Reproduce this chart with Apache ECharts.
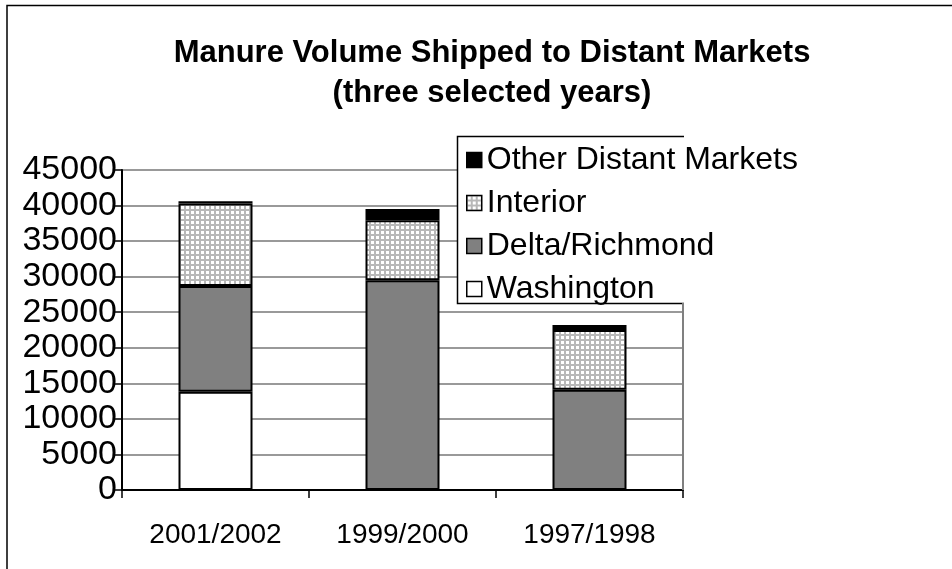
<!DOCTYPE html>
<html>
<head>
<meta charset="utf-8">
<script src="https://cdn.jsdelivr.net/npm/echarts@6/dist/echarts.min.js"></script>
<style>html,body{margin:0;padding:0;background:#fff;}#c{width:952px;height:569px;}</style>
</head>
<body>
<div id="c"></div>
<script>
const categories = ['2001/2002', '1999/2000', '1997/1998'];
const washington = [13800, 0, 0];
const delta = [14900, 29500, 14100];
const interior = [11600, 8450, 8400];
const other = [300, 1550, 700];
const yTicks = [0, 5000, 10000, 15000, 20000, 25000, 30000, 35000, 40000, 45000];

function dotPattern() {
  const c = document.createElement('canvas');
  c.width = 5; c.height = 5;
  const g = c.getContext('2d');
  g.fillStyle = '#b8b8b8';
  g.fillRect(0, 0, 5, 5);
  g.fillStyle = '#ffffff';
  g.fillRect(1, 1, 3, 3);
  return c;
}
const pat = { image: dotPattern(), repeat: 'repeat' };

const FONT = '"Liberation Sans", Arial, sans-serif';
const chart = echarts.init(document.getElementById('c'), null, { renderer: 'canvas' });
const border = { borderColor: '#000', borderWidth: 2 };
chart.setOption({
  animation: false,
  backgroundColor: '#fff',
  title: {
    text: 'Manure Volume Shipped to Distant Markets\n(three selected years)',
    left: 487, top: 28, textAlign: 'center',
    textStyle: { fontFamily: FONT, fontSize: 31, fontWeight: 'bold', color: '#000', lineHeight: 40 }
  },
  legend: {
    orient: 'vertical', left: 466, top: 143, padding: 0, z: 10,
    icon: 'rect',
    itemWidth: 15, itemHeight: 15, itemGap: 9, itemTextGap: 7,
    data: ['Other Distant Markets', 'Interior', 'Delta/Richmond', 'Washington'],
    textStyle: { fontFamily: FONT, fontSize: 32, color: '#000', lineHeight: 34 },
    itemStyle: { borderColor: '#000', borderWidth: 1.5 }
  },
  graphic: [
    { type: 'polyline', z: 1, silent: true, shape: { points: [[7, 569], [7, 5.5], [952, 5.5]] }, style: { stroke: '#000', lineWidth: 1.5, fill: null } },
    { type: 'rect', z: 5, silent: true, shape: { x: 457, y: 136, width: 495, height: 167 }, style: { fill: '#fff' } },
    { type: 'polyline', z: 6, silent: true, shape: { points: [[684, 136.5], [457.5, 136.5], [457.5, 303.5], [684, 303.5]] }, style: { stroke: '#000', lineWidth: 1.5, fill: null } },
    { type: 'line', z: 6, silent: true, shape: { x1: 683, y1: 303, x2: 683, y2: 490 }, style: { stroke: '#808080', lineWidth: 2 } }
  ],
  grid: { left: 122, right: 269, top: 170, bottom: 79, show: false },
  xAxis: {
    type: 'category', data: categories,
    axisLine: { lineStyle: { color: '#000', width: 2 } },
    axisTick: { show: true, length: 8, inside: false, lineStyle: { color: '#000', width: 1.5 } },
    axisLabel: { fontFamily: FONT, fontSize: 28, color: '#000', margin: 31 }
  },
  yAxis: {
    type: 'value', min: 0, max: 45000, interval: 5000,
    axisLine: { show: true, lineStyle: { color: '#000', width: 2 } },
    axisTick: { show: true, length: 7, lineStyle: { color: '#000', width: 1.5 } },
    axisLabel: { fontFamily: FONT, fontSize: 34, color: '#000', margin: 5,
      formatter: v => yTicks.includes(v) ? String(v) : '' },
    splitLine: { show: true, lineStyle: { color: '#777', width: 1.5 } }
  },
  series: [
    { name: 'Washington', type: 'bar', stack: 's', data: washington, barWidth: 74, itemStyle: Object.assign({ color: '#ffffff' }, border) },
    { name: 'Delta/Richmond', type: 'bar', stack: 's', data: delta, barWidth: 74, itemStyle: Object.assign({ color: '#808080' }, border) },
    { name: 'Interior', type: 'bar', stack: 's', data: interior, barWidth: 74, itemStyle: Object.assign({ color: pat }, border) },
    { name: 'Other Distant Markets', type: 'bar', stack: 's', data: other, barWidth: 74, itemStyle: Object.assign({ color: '#000000' }, border) }
  ]
});
</script>
</body>
</html>
